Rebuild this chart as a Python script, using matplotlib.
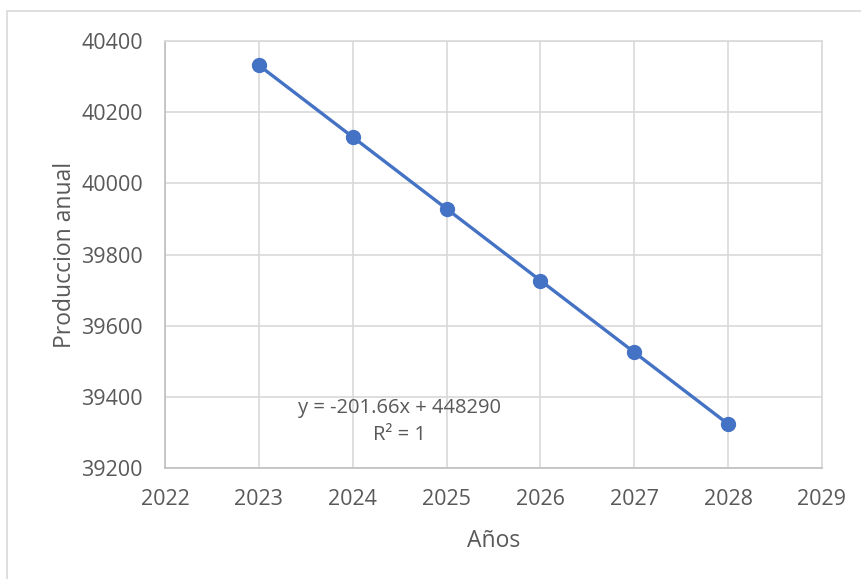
import matplotlib.pyplot as plt
from matplotlib.patches import Rectangle

# Annual production per year (trend y = -201.66x + 448290)
years = [2023, 2024, 2025, 2026, 2027, 2028]
production = [40331.8, 40130.2, 39928.5, 39726.8, 39525.2, 39323.5]

x_ticks = [2022, 2023, 2024, 2025, 2026, 2027, 2028, 2029]
y_ticks = [39200, 39400, 39600, 39800, 40000, 40200, 40400]

trend_label = "y = -201.66x + 448290\nR² = 1"

TEXT = "#595959"
GRID = "#d9d9d9"
BLUE = "#4472c4"

plt.rcParams["font.family"] = ["Open Sans", "DejaVu Sans"]

fig = plt.figure(figsize=(8.62, 5.79), dpi=100)
fig.patches.append(Rectangle((7 / 862, -0.1), 1.2, 1 - 11 / 579 + 0.1,
                             transform=fig.transFigure, fill=False,
                             edgecolor=GRID, linewidth=1.2))

ax = fig.add_axes([165 / 862, 1 - 468 / 579, 657 / 862, 427 / 579])
ax.plot(years, production, color=BLUE, linewidth=2.4, marker="o",
        markersize=10, zorder=3)

ax.set_xlim(2022, 2029)
ax.set_ylim(39200, 40400)
ax.set_xticks(x_ticks)
ax.set_yticks(y_ticks)
ax.grid(True, color=GRID, linewidth=1.2)
ax.set_axisbelow(True)
for side in ax.spines.values():
    side.set_color(GRID)
    side.set_linewidth(1.2)
ax.spines["left"].set_color("#bfbfbf")
ax.spines["bottom"].set_color("#bfbfbf")
ax.tick_params(length=0, labelsize=15.5, colors=TEXT)
ax.tick_params(axis="y", pad=16)
ax.tick_params(axis="x", pad=15)

ax.set_xlabel("Años", fontsize=16.5, color=TEXT, labelpad=14)
ax.set_ylabel("Produccion anual", fontsize=16.5, color=TEXT, labelpad=3)

ax.text(2024.5, 39330, trend_label, ha="center", va="center",
        fontsize=14.5, color=TEXT, linespacing=1.5)

fig.savefig("out.png", dpi=100)
